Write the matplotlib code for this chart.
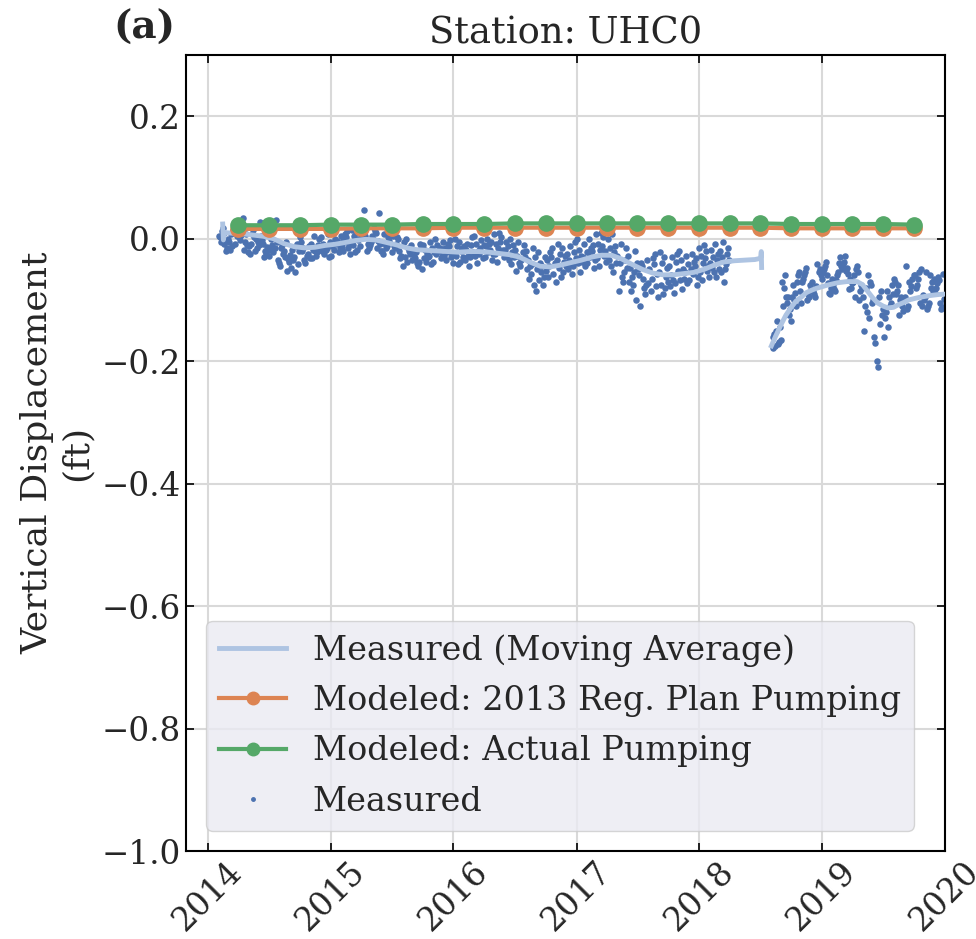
import numpy as np
import pandas as pd
import matplotlib
matplotlib.use("Agg")
import matplotlib.pyplot as plt
import matplotlib.dates as mdates
from matplotlib.lines import Line2D

plt.rcParams['font.family'] = ['DejaVu Serif']
plt.rcParams['mathtext.fontset'] = 'dejavuserif'

# ---------------- data ----------------
# Measured scatter: per month, values in thousandths of a foot
meas_months_1 = pd.date_range("2014-02-01", "2018-03-01", freq="MS")
meas_vals_1 = [
    "5 -8 12 -15 2 -3 18 -20 -6 9",
    "10 -5 22 -12 4 -18 15 0 -8 7",
    "34 -10 6 -18 2 -5 12 -22 -2 8",
    "3 -12 -20 8 -6 -25 0 14 -15 -8",
    "-2 -18 28 -25 -8 -14 4 -30 -10 -20",
    "-5 -22 -35 0 -15 -28 30 -10 -40 -18",
    "-10 -30 -45 -5 -25 -38 -15 -52 -20 -33",
    "-12 -35 -20 -48 -8 -30 -42 -18 -55 -26",
    "-5 -25 -35 -12 -20 -40 2 -28 -15 -32",
    "0 -18 -28 -8 -22 5 -15 -32 -10 -20",
    "2 -15 -25 -5 -20 8 -12 -30 -8 -18",
    "5 -12 -22 0 -15 10 -8 -28 -4 -18",
    "8 -10 -20 2 -14 12 -5 -25 -2 -15",
    "10 -8 -18 4 -12 14 -2 -22 0 -10",
    "47 -5 12 -15 5 -10 16 -20 2 -8",
    "42 10 -8 18 -15 4 -3 12 -20 0",
    "8 -12 -20 2 -8 15 -25 -4 -15 5",
    "0 -15 -28 5 -20 -8 -32 -12 3 -22",
    "-5 -25 -38 -10 -30 -15 -45 -20 0 -35",
    "-12 -32 -45 -18 -38 -22 -50 -28 -8 -40",
    "-10 -28 -38 -15 -32 -5 -25 -42 -18 -30",
    "-5 -22 -32 -10 -28 0 -20 -38 -15 -25",
    "-8 -25 -35 -12 -28 -2 -22 -40 -15 -30",
    "-5 -25 -38 -12 -30 0 -20 -42 -15 -28",
    "-8 -22 -35 -10 -28 2 -18 -45 -12 -30",
    "-2 -20 -32 -8 -25 5 -15 -40 -10 -28",
    "0 -18 -30 -5 -22 8 -12 -35 -8 -25",
    "2 -15 -30 -8 -22 10 -18 -38 -5 -25",
    "-5 -22 -35 -10 -28 0 -18 -42 -12 -30",
    "-10 -28 -45 -18 -35 -5 -30 -52 -22 -40",
    "-20 -42 -65 -30 -50 -15 -45 -75 -35 -58",
    "-30 -50 -75 -40 -62 -22 -55 -85 -45 -68",
    "-22 -40 -62 -30 -52 -15 -45 -70 -35 -58",
    "-15 -35 -55 -25 -45 -8 -38 -62 -28 -48",
    "-12 -32 -50 -22 -42 -5 -35 -58 -25 -45",
    "-8 -28 -45 -18 -38 0 -30 -55 -22 -40",
    "0 -20 -40 -10 -30 8 -22 -48 -15 -35",
    "2 -18 -38 -8 -28 10 -20 -45 -12 -32",
    "0 -22 -45 -12 -35 8 -28 -55 -15 -40",
    "-15 -40 -70 -28 -55 -8 -48 -85 -35 -62",
    "-28 -55 -85 -40 -70 -20 -62 -100 -48 -75",
    "-35 -60 -90 -45 -75 -110 -65 -50 -80 -40",
    "-32 -58 -85 -42 -72 -25 -65 -95 -50 -78",
    "-30 -55 -80 -40 -70 -22 -62 -90 -48 -75",
    "-30 -52 -78 -38 -68 -25 -60 -88 -45 -72",
    "-28 -50 -72 -35 -65 -20 -55 -82 -42 -68",
    "-25 -45 -68 -32 -58 -15 -50 -75 -38 -62",
    "-20 -40 -62 -28 -52 -10 -45 -68 -32 -55",
    "-18 -35 -55 -25 -48 -8 -40 -62 -30 -50",
    "-15 -30 -50 -20 -42 -5 -35 -55 -25 -70",
]
meas_months_2 = pd.date_range("2018-08-01", "2019-12-01", freq="MS")
meas_vals_2 = [
    "-178 -172 -175 -165 -160 -168 -150 -145 -155 -135",
    "-135 -110 -125 -95 -115 -80 -105 -70 -95 -60",
    "-110 -85 -100 -70 -95 -60 -88 -105 -75 -55",
    "-100 -70 -90 -55 -82 -65 -95 -48 -75 -60",
    "-95 -65 -85 -50 -78 -60 -90 -42 -70 -55",
    "-90 -60 -80 -45 -72 -55 -88 -38 -65 -50",
    "-85 -55 -75 -40 -68 -50 -82 -30 -60 -45",
    "-82 -52 -72 -38 -65 -48 -80 -28 -58 -42",
    "-60 -85 -45 -75 -95 -55 -70 -100 -50 -80",
    "-75 -110 -60 -95 -130 -80 -105 -150 -70 -120",
    "-100 -140 -200 -115 -160 -85 -210 -125 -170 -95",
    "-90 -130 -105 -145 -75 -120 -95 -160 -110 -85",
    "-75 -110 -90 -125 -65 -100 -85 -118 -70 -95",
    "-70 -100 -85 -115 -60 -95 -78 -110 -65 -45",
    "-65 -100 -80 -110 -55 -92 -75 -105 -60 -50",
    "-70 -105 -85 -115 -60 -95 -80 -110 -65 -55",
    "-72 -105 -88 -115 -62 -98 -80 -112 -68 -58",
]
# order in which a month's readings fall across its days (one slot per reading)
day_slots = [0, 6, 3, 9, 1, 7, 4, 8, 2, 5]
# the second gap segment starts a few days into August 2018
seg2_start_offset_days = 4

# Moving average (ft)
ma_dates_1 = ["2014-02-14", "2014-02-16", "2014-02-20", "2014-03-15", "2014-04-15", "2014-05-15",
              "2014-06-15", "2014-07-15", "2014-08-15", "2014-09-15", "2014-10-15", "2014-11-15",
              "2014-12-15", "2015-01-15", "2015-02-15", "2015-03-15", "2015-04-15", "2015-05-15",
              "2015-06-15", "2015-07-15", "2015-08-15", "2015-09-15", "2015-10-15", "2015-11-15",
              "2015-12-15", "2016-01-15", "2016-02-15", "2016-03-15", "2016-04-15", "2016-05-15",
              "2016-06-15", "2016-07-15", "2016-08-15", "2016-09-15", "2016-10-15", "2016-11-15",
              "2016-12-15", "2017-01-15", "2017-02-15", "2017-03-15", "2017-04-15", "2017-05-15",
              "2017-06-15", "2017-07-15", "2017-08-15", "2017-09-15", "2017-10-15", "2017-11-15",
              "2017-12-15", "2018-01-15", "2018-02-15", "2018-03-15", "2018-04-15", "2018-05-15",
              "2018-06-15", "2018-07-02", "2018-07-04", "2018-07-05"]
ma_vals_1 = [0.024, -0.002, 0.010, 0.009, 0.008, 0.006,
             0.004, 0.000, -0.008, -0.013, -0.015, -0.014,
             -0.011, -0.009, -0.006, -0.003, -0.001, -0.002,
             -0.006, -0.010, -0.015, -0.018, -0.019, -0.020,
             -0.021, -0.022, -0.021, -0.021, -0.022, -0.024,
             -0.026, -0.030, -0.038, -0.045, -0.046, -0.043,
             -0.039, -0.035, -0.030, -0.027, -0.027, -0.033,
             -0.042, -0.050, -0.056, -0.059, -0.059, -0.057,
             -0.055, -0.050, -0.043, -0.038, -0.036, -0.035,
             -0.034, -0.032, -0.021, -0.047]
ma_dates_2 = ["2018-08-03", "2018-08-15", "2018-09-01", "2018-09-15", "2018-10-01", "2018-10-15",
              "2018-11-01", "2018-11-15", "2018-12-01", "2018-12-15", "2019-01-15", "2019-02-15",
              "2019-03-15", "2019-04-15", "2019-05-01", "2019-05-15", "2019-06-01", "2019-06-15",
              "2019-07-01", "2019-07-15", "2019-08-01", "2019-08-15", "2019-09-01", "2019-09-15",
              "2019-10-15", "2019-11-15", "2019-12-15", "2020-01-15"]
ma_vals_2 = [-0.175, -0.160, -0.140, -0.125, -0.112, -0.102,
             -0.095, -0.088, -0.084, -0.081, -0.076, -0.072,
             -0.070, -0.070, -0.075, -0.085, -0.097, -0.105,
             -0.110, -0.113, -0.112, -0.108, -0.104, -0.100,
             -0.096, -0.093, -0.091, -0.090]

# Modeled (quarterly)
model_dates = pd.date_range("2014-04-01", "2019-10-01", freq="QS")
model_plan = [0.016, 0.016, 0.016, 0.016, 0.017, 0.017, 0.017, 0.018, 0.018, 0.018, 0.018, 0.018,
              0.018, 0.018, 0.018, 0.018, 0.018, 0.018, 0.017, 0.017, 0.017, 0.017, 0.017]
model_actual = [0.022, 0.022, 0.022, 0.023, 0.023, 0.023, 0.024, 0.024, 0.024, 0.025, 0.025, 0.025,
                0.025, 0.025, 0.025, 0.025, 0.025, 0.025, 0.024, 0.024, 0.024, 0.024, 0.023]

title = "Station: UHC0"
panel = "(a)"
ylabel = "Vertical Displacement\n(ft)"
labels = ["Measured (Moving Average)", "Modeled: 2013 Reg. Plan Pumping",
          "Modeled: Actual Pumping", "Measured"]


def expand(months, vals, start_offset=0):
    d, v = [], []
    for k, (m, s) in enumerate(zip(months, vals)):
        nums = [int(t) / 1000.0 for t in s.split()]
        ndays = m.days_in_month
        off = start_offset if k == 0 else 0
        span = ndays - off
        n = len(nums)
        for i, x in enumerate(nums):
            slot = day_slots[(i + 3 * k) % len(day_slots)]
            d.append(m + pd.Timedelta(days=off + (slot + 0.5) * span / n))
            v.append(x)
    return d, v


d1, v1 = expand(meas_months_1, meas_vals_1)
d2, v2 = expand(meas_months_2, meas_vals_2, seg2_start_offset_days)
meas_dates = d1 + d2
meas_vals = v1 + v2

# ---------------- plot ----------------
BLUE = "#4C72B0"
ORANGE = "#DD8452"
GREEN = "#55A868"
MA = "#aec4e2"

fig = plt.figure(figsize=(9.76, 9.39), dpi=100)
ax = fig.add_axes([0.1906, 0.0937, 0.7776, 0.8477])

ax.scatter(meas_dates, meas_vals, s=22, color=BLUE, linewidths=0, zorder=2)
ax.plot(pd.to_datetime(ma_dates_1), ma_vals_1, color=MA, lw=3.5, zorder=3)
ax.plot(pd.to_datetime(ma_dates_2), ma_vals_2, color=MA, lw=3.5, zorder=3)
ax.plot(model_dates, model_plan, color=ORANGE, lw=3, marker='o', ms=11, zorder=4)
ax.plot(model_dates, model_actual, color=GREEN, lw=3, marker='o', ms=11, zorder=5)

ax.set_ylim(-1.0, 0.3)
ax.set_xlim(pd.Timestamp("2013-10-28"), pd.Timestamp("2020-01-01"))
ax.set_yticks([0.2, 0.0, -0.2, -0.4, -0.6, -0.8, -1.0])
ax.xaxis.set_major_locator(mdates.YearLocator())
ax.xaxis.set_major_formatter(mdates.DateFormatter("%Y"))

ax.grid(True, color="#d9d9d9", lw=1.5, zorder=0)
ax.set_axisbelow(True)
for sp in ax.spines.values():
    sp.set_color("black")
    sp.set_linewidth(1.5)
ax.tick_params(direction='in', length=6, width=1.2, top=True, right=True,
               labelsize=23.5, colors='black', labelcolor='#262626')
plt.setp(ax.get_xticklabels(), rotation=45, ha='center')

ax.set_ylabel(ylabel, fontsize=26, color='#262626', labelpad=6)
ax.set_title(title, fontsize=26.5, color='#262626', pad=8)
fig.text(0.116, 0.970, panel, fontsize=28, fontweight='bold', color='#262626',
         ha='left', va='center')

handles = [
    Line2D([], [], color=MA, lw=3.5),
    Line2D([], [], color=ORANGE, lw=3, marker='o', ms=9),
    Line2D([], [], color=GREEN, lw=3, marker='o', ms=9),
    Line2D([], [], color=BLUE, lw=0, marker='o', ms=2.5),
]
leg = ax.legend(handles, labels, loc='lower left', fontsize=24, frameon=True,
                facecolor='#EAEAF2', edgecolor='#cccccc', framealpha=0.8,
                borderaxespad=0.6, handlelength=2.0, labelspacing=0.55,
                labelcolor='#262626')

fig.savefig("out.png", dpi=100)
